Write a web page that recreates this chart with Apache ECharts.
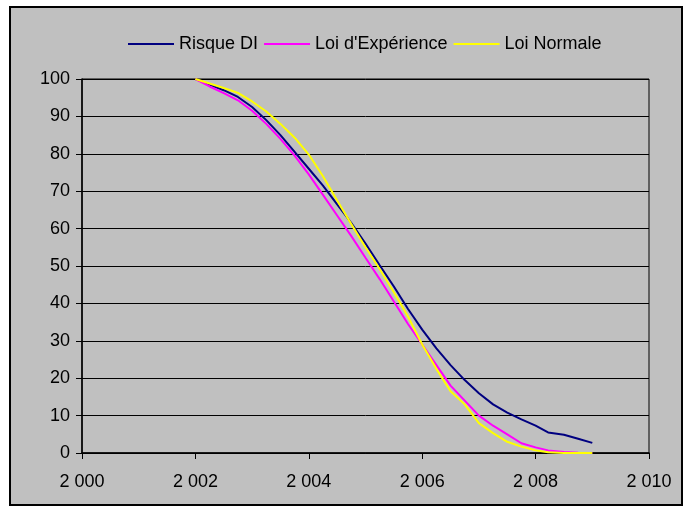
<!DOCTYPE html>
<html>
<head>
<meta charset="utf-8">
<script src="https://cdn.jsdelivr.net/npm/echarts@6/dist/echarts.min.js"></script>
<style>
html,body{margin:0;padding:0;background:#fff;}
#c{width:691px;height:511px;}
</style>
</head>
<body>
<div id="c"></div>
<script>
const years = [2002,2002.25,2002.5,2002.75,2003,2003.25,2003.5,2003.75,2004,2004.25,2004.5,2004.75,2005,2005.25,2005.5,2005.75,2006,2006.25,2006.5,2006.75,2007,2007.25,2007.5,2007.75,2008,2008.22,2008.5,2008.75,2009];
const risqueDI = [100,98.5,97,95.2,92.5,89,85,80.5,76,71.5,66.5,61.5,56,50.2,44.5,38.5,33,28,23.5,19.5,16,13,10.8,9,7.3,5.5,4.9,3.8,2.7];
const loiExperience = [100,98,96.2,94.3,91.5,88,84,79.5,74.5,69,63.5,58,52.2,46.5,40.5,34.5,29,23.5,18,14,10,7.3,5,2.6,1.5,0.7,0.3,0.1,0];
const loiNormale = [100,98.8,97.6,96.3,94,91.3,88,84.3,79.8,74,67.5,61.2,55,49.2,43,36.5,29,22.5,16.5,13,8,5.3,3,1.7,0.7,0.2,0,0,0];
const seriesNames = ['Risque DI', "Loi d'Expérience", 'Loi Normale'];
const xTicks = {min: 2000, max: 2010, interval: 2};
const yTicks = {min: 0, max: 100, interval: 10};

const pairs = vals => years.map((y, i) => [y, vals[i]]);
const font = 'Liberation Sans, Arial, sans-serif';
const chart = echarts.init(document.getElementById('c'), null, {renderer: 'canvas'});
chart.setOption({
  backgroundColor: '#ffffff',
  animation: false,
  graphic: [{
    type: 'rect', z: -10,
    shape: {x: 10, y: 7, width: 672, height: 498},
    style: {fill: '#c0c0c0', stroke: '#000', lineWidth: 2}
  }],
  legend: {
    top: 30, left: 123,
    icon: 'rect',
    itemWidth: 46, itemHeight: 2, itemGap: 6,
    textStyle: {fontFamily: font, fontSize: 18, color: '#000'},
    data: seriesNames
  },
  grid: {left: 82, right: 42, top: 79, bottom: 58, show: true, borderColor: '#000', borderWidth: 1, backgroundColor: 'transparent'},
  xAxis: {
    type: 'value', min: xTicks.min, max: xTicks.max, interval: xTicks.interval,
    axisLine: {lineStyle: {color: '#000', width: 1.5}},
    axisTick: {show: true, length: 6, lineStyle: {color: '#000'}},
    splitLine: {show: false},
    axisLabel: {margin: 20, color: '#000', fontFamily: font, fontSize: 18,
      formatter: v => String(v).replace(/\B(?=(\d{3})+(?!\d))/g, ' ')}
  },
  yAxis: {
    type: 'value', min: yTicks.min, max: yTicks.max, interval: yTicks.interval,
    axisLine: {show: true, lineStyle: {color: '#000', width: 1.5}},
    axisTick: {show: true, length: 6, lineStyle: {color: '#000'}},
    splitLine: {show: true, lineStyle: {color: '#000', width: 1}},
    axisLabel: {margin: 12, color: '#000', fontFamily: font, fontSize: 18}
  },
  series: [
    {name: seriesNames[0], type: 'line', data: pairs(risqueDI), symbol: 'none', lineStyle: {color: '#000080', width: 2}, itemStyle: {color: '#000080'}},
    {name: seriesNames[1], type: 'line', data: pairs(loiExperience), symbol: 'none', lineStyle: {color: '#ff00ff', width: 2}, itemStyle: {color: '#ff00ff'}},
    {name: seriesNames[2], type: 'line', data: pairs(loiNormale), symbol: 'none', lineStyle: {color: '#ffff00', width: 2}, itemStyle: {color: '#ffff00'}}
  ]
});
</script>
</body>
</html>
